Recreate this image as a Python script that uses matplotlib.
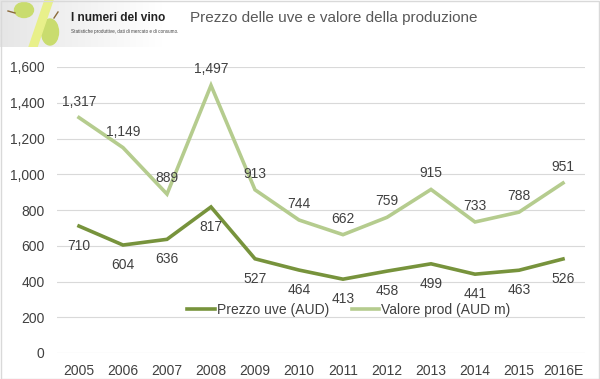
import matplotlib
matplotlib.use("Agg")
import matplotlib.pyplot as plt
import numpy as np
from matplotlib.patches import Ellipse, Polygon, Rectangle

years = ["2005", "2006", "2007", "2008", "2009", "2010", "2011", "2012",
         "2013", "2014", "2015", "2016E"]
prezzo_uve = [710, 604, 636, 817, 527, 464, 413, 458, 499, 441, 463, 526]
valore_prod = [1317, 1149, 889, 1497, 913, 744, 662, 759, 915, 733, 788, 951]
yticks = [0, 200, 400, 600, 800, 1000, 1200, 1400, 1600]

title = "Prezzo delle uve e valore della produzione"
label_prezzo = "Prezzo uve (AUD)"
label_valore = "Valore prod (AUD m)"
logo_title = "I numeri del vino"
logo_sub = "Statistiche produttive, dati di mercato e di consumo."

plt.rcParams['font.family'] = ['Liberation Sans', 'DejaVu Sans']

W, H = 600, 379
fig = plt.figure(figsize=(W / 100, H / 100), dpi=100)
fig.patch.set_facecolor("white")

dark = "#77933C"
light = "#B5CC8E"
txt = "#404040"

ax = fig.add_axes([57 / W, (H - 353) / H, 528 / W, 286 / H])
x = np.arange(len(years))
ax.plot(x, prezzo_uve, color=dark, lw=2.6, solid_joinstyle="miter", label=label_prezzo, zorder=3)
ax.plot(x, valore_prod, color=light, lw=2.6, solid_joinstyle="miter", label=label_valore, zorder=3)

for xi, v in zip(x, prezzo_uve):
    ax.annotate(f"{v:,}", (xi, v), xytext=(0, -20), textcoords="offset pixels",
                ha="center", va="center", fontsize=10, color=txt, zorder=4)
for xi, v in zip(x, valore_prod):
    ax.annotate(f"{v:,}", (xi, v), xytext=(0, 16), textcoords="offset pixels",
                ha="center", va="center", fontsize=10, color=txt, zorder=4)

ax.set_xlim(-0.5, len(years) - 0.5)
ax.set_ylim(0, 1600)
ax.set_yticks(yticks)
ax.set_yticklabels([f"{t:,}" for t in yticks])
ax.set_xticks(x)
ax.set_xticklabels(years)
ax.tick_params(axis="both", length=0, labelsize=10, labelcolor=txt)
ax.tick_params(axis="y", pad=9)
ax.tick_params(axis="x", pad=8)
ax.grid(axis="y", color="#D9D9D9", lw=0.8)
ax.set_axisbelow(True)
for s in ax.spines.values():
    s.set_visible(False)
ax.set_facecolor("none")

fig.legend(loc="center", bbox_to_anchor=(349 / W, 1 - 310 / H), ncol=2, frameon=False,
           fontsize=10, handlelength=2.0, handletextpad=0.15, columnspacing=1.6,
           borderpad=0, labelcolor=txt)

fig.text(334 / W, 1 - 18 / H, title, ha="center", va="center", fontsize=11, color="#595959")

# logo
lax = fig.add_axes([0, 1 - 47 / H, 163 / W, 47 / H])
grad = np.linspace(0, 1, 100)[None, :] * np.ones((50, 1))
lax.imshow(grad, cmap=matplotlib.colors.LinearSegmentedColormap.from_list("g", ["#E6E6E6", "#FFFFFF"]),
           extent=[0, 163, 47, 0], aspect="auto", zorder=0)
lax.set_xlim(0, 163)
lax.set_ylim(47, 0)
lax.axis("off")
lax.add_patch(Ellipse((24, 10), 19, 15, color="#C9DC6E", zorder=1))
lax.add_patch(Ellipse((50, 32), 17, 26, color="#C9DC6E", zorder=1))
lax.add_patch(Polygon([(45, 0), (53, 0), (37, 47), (29, 47)], closed=True, color="#E8F08A", zorder=2))
lax.plot([8, 15], [11, 13], color="#8A6A3A", lw=1)
lax.plot([54, 58], [18, 12], color="#8A6A3A", lw=1)
lax.text(71, 18, logo_title, fontsize=8.6, fontweight="bold", color="#222222",
         va="center", ha="left")
lax.text(71, 32, logo_sub, fontsize=3.3, color="#444444", va="center", ha="left")

# border
fig.add_artist(Rectangle((0.5 / W, 0.5 / H), (W - 1.5) / W, (H - 1.5) / H, transform=fig.transFigure,
                         fill=False, edgecolor="#D9D9D9", lw=1))

fig.savefig("out.png", dpi=100)
